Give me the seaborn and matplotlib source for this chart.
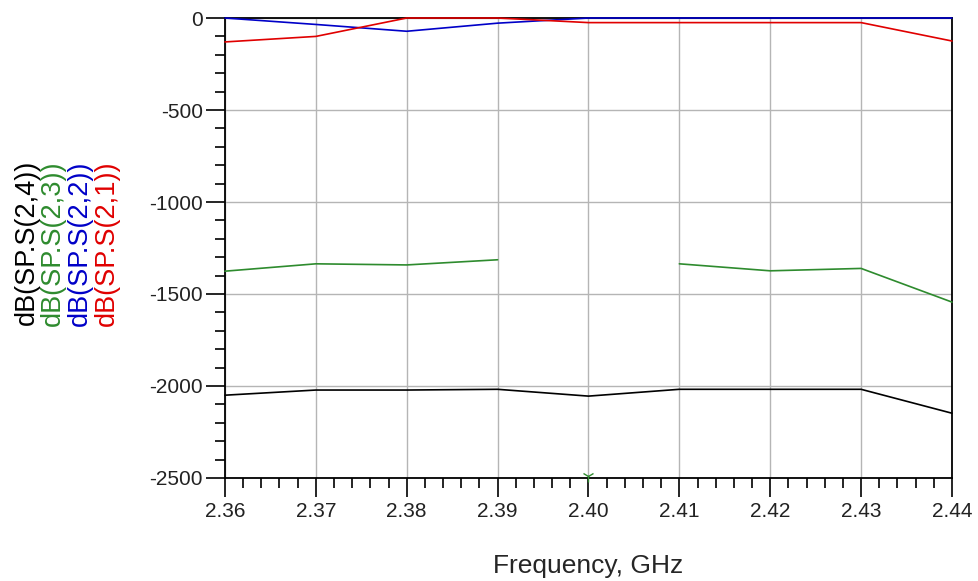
import numpy as np
import pandas as pd
import seaborn as sns
import matplotlib.pyplot as plt
from matplotlib.ticker import MultipleLocator, FormatStrFormatter

# Frequency points (GHz) and the four S-parameter traces (dB)
freq = [2.36, 2.37, 2.38, 2.39, 2.40, 2.41, 2.42, 2.43, 2.44]
s21 = [-130, -100, 0, 0, -25, -25, -25, -25, -125]
s22 = [0, -35, -72, -28, 0, 0, 0, 0, 0]
s23 = [-1376, -1336, -1342, -1314, np.nan, -1336, -1374, -1361, -1544]
s24 = [-2050, -2022, -2022, -2018, -2055, -2018, -2018, -2018, -2148]

# marker sitting on the x axis at 2.40 GHz
marker_x = [2.40]
marker_y = [-2488]

series_names = ['dB(SP.S(2,4))', 'dB(SP.S(2,3))', 'dB(SP.S(2,2))', 'dB(SP.S(2,1))']
series_colors = ['#000000', '#2e8b2e', '#0000c8', '#e00000']

# Build a long table, breaking a trace into segments where it has gaps
rows = []
for name, vals in zip(series_names, [s24, s23, s22, s21]):
    seg = 0
    for f, v in zip(freq, vals):
        if np.isnan(v):
            seg += 1
            continue
        rows.append({'freq': f, 'dB': v, 'trace': name, 'seg': f'{name}-{seg}'})
df = pd.DataFrame(rows)

sns.set_style('white')
plt.rcParams['font.family'] = ['Liberation Sans', 'DejaVu Sans']
plt.rcParams['axes.unicode_minus'] = False

fig = plt.figure(figsize=(9.79, 5.81), dpi=100)
ax = fig.add_axes([0.2298, 0.1773, 0.7426, 0.7917])

palette = dict(zip(series_names, series_colors))
sns.lineplot(data=df, x='freq', y='dB', hue='trace', units='seg', estimator=None,
             palette=palette, linewidth=1.2, legend=False, ax=ax, clip_on=False, zorder=3)
ax.plot(marker_x, marker_y, marker='1', markersize=9, color='#2e8b2e',
        linestyle='none', clip_on=False, zorder=4)

ax.set_xlim(2.36, 2.44)
ax.set_ylim(-2500, 0)
ax.xaxis.set_major_locator(MultipleLocator(0.01))
ax.xaxis.set_minor_locator(MultipleLocator(0.002))
ax.xaxis.set_major_formatter(FormatStrFormatter('%.2f'))
ax.yaxis.set_major_locator(MultipleLocator(500))
ax.yaxis.set_minor_locator(MultipleLocator(100))

ax.tick_params(axis='both', which='major', direction='out', length=14, width=1.2,
               color='black', labelsize=15, labelcolor='#222222', pad=2)
ax.tick_params(axis='x', which='major', pad=3)
ax.tick_params(axis='both', which='minor', direction='out', length=7, width=1.2,
               color='black')
ax.tick_params(left=True, bottom=True, which='both')

ax.grid(True, which='major', color='#b5b5b5', linewidth=1)
for side in ['left', 'bottom', 'right', 'top']:
    ax.spines[side].set_color('black')
    ax.spines[side].set_linewidth(1.3)

ax.set_xlabel('Frequency, GHz', fontsize=19, labelpad=24)
ax.set_ylabel('')

# stacked, coloured y labels
label_x = [0.0276, 0.0541, 0.0817, 0.1093]
for lx, name, col in zip(label_x, series_names, series_colors):
    fig.text(lx, 0.582, name, rotation=90, ha='center', va='center',
             fontsize=19.5, color=col)

plt.savefig('out.png', dpi=100)
